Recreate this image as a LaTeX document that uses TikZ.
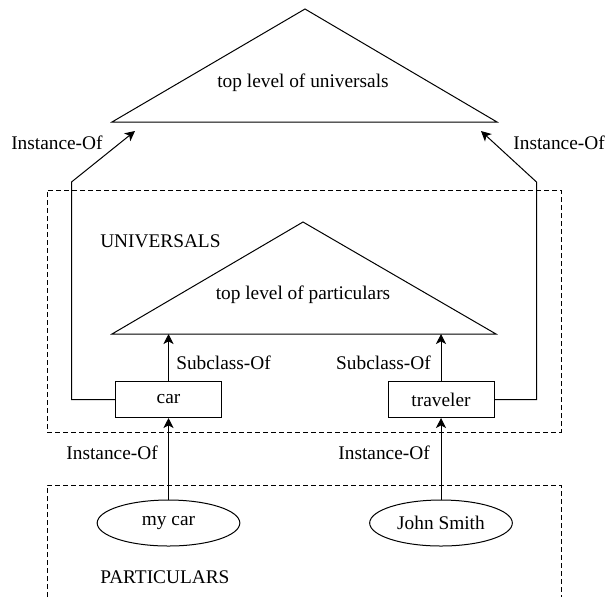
\documentclass[tikz,border=0pt]{standalone}
\usepackage{fontspec}
\setmainfont{Liberation Serif}
\usetikzlibrary{shapes.geometric,arrows.meta,positioning,calc}
\tikzset{
  classBox/.style={
    rectangle,
    draw,
    line width=0.75pt,
    minimum width=79.5pt,
    minimum height=27pt,
    inner sep=0pt
 },
  indivNode/.style={
    ellipse,
    draw,
    line width=0.75pt,
    minimum width=107pt,
    minimum height=34.5pt,
    inner sep=0pt
 },
  groupBox/.style={
    draw,
    line width=0.75pt,
    dash pattern=on 3.75pt off 2.25pt
 },
  levelShape/.style={
    draw,
    line width=0.75pt
 },
  relArrow/.style={
    -{Stealth[length=7.5pt,width=7.5pt,inset=2pt]},
    line width=0.75pt
 },
  relLabel/.style={
    inner sep=0pt
 }
}

\begin{document}
\begin{tikzpicture}[x=0.75pt, y=-0.75pt, font=\fontsize{14.5}{17}\selectfont]
            \useasboundingbox (0,0) rectangle (606,597);

            % top level of universals
            \coordinate (uApex) at (305,9);
            \coordinate (uLeft) at (112,122);
            \coordinate (uRight) at (497,122);
            \draw[levelShape] (uLeft) -- (uApex) -- (uRight) -- cycle;
            \node (uText) at (303,83) {top level of universals};

            % universals group
            \node[groupBox, minimum width=385.5pt, minimum height=181.5pt] (univBox) at (304,311) {};
            \node[relLabel, anchor=west] (univTitle) at (100,241) {UNIVERSALS};

            % top level of particulars
            \coordinate (pApex) at (303,222);
            \coordinate (pLeft) at (112,334);
            \coordinate (pRight) at (496,334);
            \draw[levelShape] (pLeft) -- (pApex) -- (pRight) -- cycle;
            \node (pText) at (303,295) {top level of particulars};

            % classes
            \node[classBox] (car) at (168.5,399.5) {car};
            \node[classBox] (traveler) at (441,399.5) {traveler};
            \draw[relArrow] (car) -- (car |- pLeft);
            \draw[relArrow] (traveler) -- (traveler |- pRight);
            \node[relLabel, anchor=west] (carSub) at (176,363) {Subclass-Of};
            \node[relLabel, anchor=east] (travSub) at (431,363) {Subclass-Of};

            % classes are instances of the top level
            \coordinate (carKnee) at (71.5,182);
            \coordinate (travKnee) at (536.5,182);
            \coordinate (uTipL) at (135,131);
            \coordinate (uTipR) at (481,131);
            \draw[relArrow] (car.west) -| (carKnee) -- (uTipL);
            \draw[relArrow] (traveler.east) -| (travKnee) -- (uTipR);
            \node[relLabel, anchor=west] (carInst) at (11,143) {Instance-Of};
            \node[relLabel, anchor=east] (travInst) at (605,143) {Instance-Of};

            % particulars group, cut off at the bottom
            \coordinate (partBL) at (47,597);
            \coordinate (partTR) at (561,485);
            \draw[groupBox] (partBL) |- (partTR) -- (partTR |- partBL);
            \node[relLabel, anchor=west] (partTitle) at (100,577) {PARTICULARS};

            % individuals
            \node[indivNode] (mycar) at (168.5,523) {my car};
            \node[indivNode] (john) at (441,523) {John Smith};
            \draw[relArrow] (mycar) -- (car);
            \draw[relArrow] (john) -- (traveler);
            \node[relLabel, anchor=east] (mycarInst) at (158,453) {Instance-Of};
            \node[relLabel, anchor=east] (johnInst) at (430,453) {Instance-Of};

        \end{tikzpicture}
\end{document}
